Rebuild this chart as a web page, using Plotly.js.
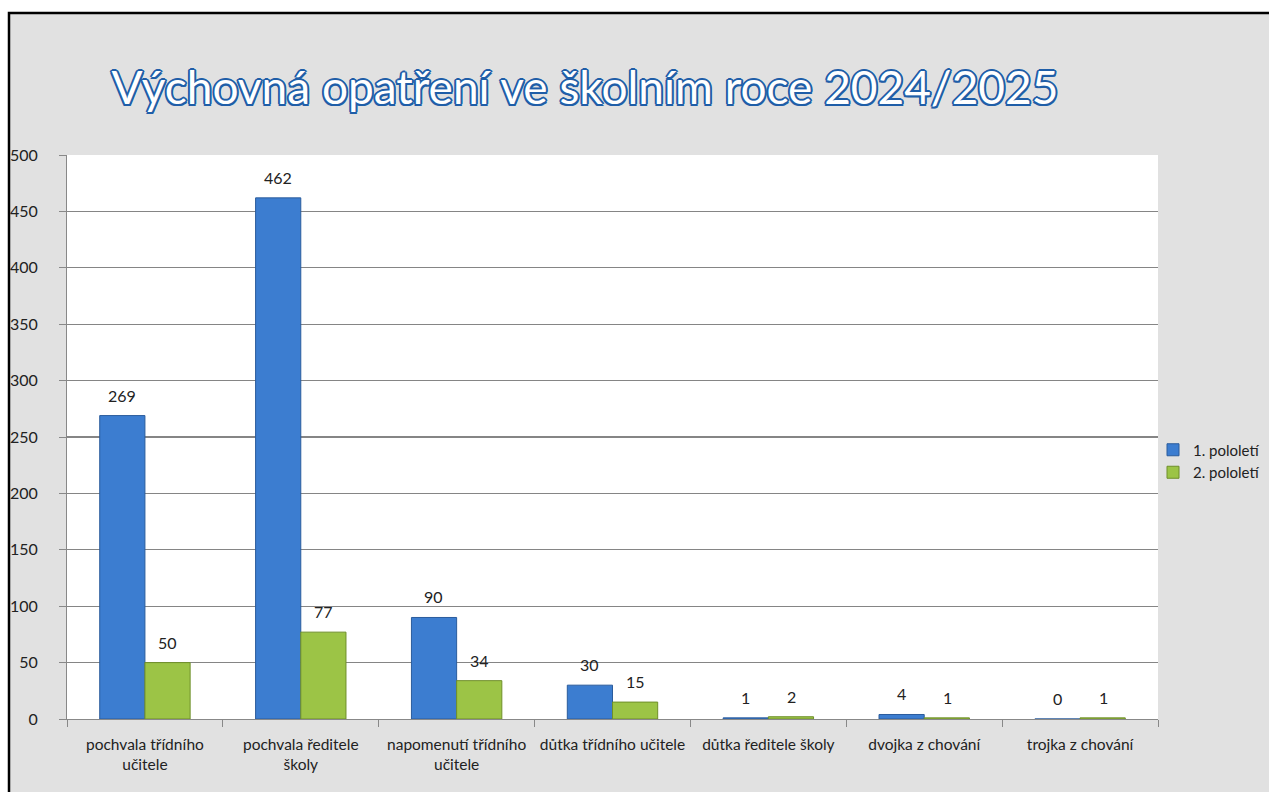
<!DOCTYPE html>
<html>
<head>
<meta charset="utf-8">
<script src="https://cdn.plot.ly/plotly-3.0.1.min.js"></script>
<style>html,body{margin:0;padding:0;background:#fff;}#chart{width:1269px;height:792px;}</style>
</head>
<body>
<div id="chart"></div>
<script>
const categories = [
  "pochvala třídního<br>učitele",
  "pochvala ředitele<br>školy",
  "napomenutí třídního<br>učitele",
  "důtka třídního učitele",
  "důtka ředitele školy",
  "dvojka z chování",
  "trojka z chování"
];
const series1Name = "1. pololetí";
const series2Name = "2. pololetí";
const series1 = [269, 462, 90, 30, 1, 4, 0];
const series2 = [50, 77, 34, 15, 2, 1, 1];
const yTicks = [0, 50, 100, 150, 200, 250, 300, 350, 400, 450, 500];
const titleText = "Výchovná opatření ve školním roce 2024/2025";

const W = 1269, H = 792;
const px = v => v / W;
const py = v => 1 - v / H;
const font = "Lato, 'Open Sans', sans-serif";

const traces = [
  {
    type: "bar", name: series1Name, x: categories, y: series1,
    marker: {color: "#3c7dd0", line: {color: "#2b5c9c", width: 1}},
    hoverinfo: "x+y"
  },
  {
    type: "bar", name: series2Name, x: categories, y: series2,
    marker: {color: "#9cc446", line: {color: "#6f8f2a", width: 1}},
    hoverinfo: "x+y"
  }
];

const labelFont = {family: font, size: 16, color: "#222"};
const annotations = [];
categories.forEach((c, i) => {
  annotations.push({x: c, y: series1[i], xref: "x", yref: "y", text: String(series1[i]),
    showarrow: false, xanchor: "center", yanchor: "bottom", xshift: -23, yshift: 9, font: labelFont});
  annotations.push({x: c, y: series2[i], xref: "x", yref: "y", text: String(series2[i]),
    showarrow: false, xanchor: "center", yanchor: "bottom", xshift: 23, yshift: 9, font: labelFont});
});

const layout = {
  width: W, height: H,
  margin: {l: 0, r: 0, t: 0, b: 0, autoexpand: false},
  paper_bgcolor: "#ffffff",
  plot_bgcolor: "#ffffff",
  barmode: "group",
  bargap: 0.42,
  bargroupgap: 0,
  showlegend: true,
  font: {family: font, color: "#222"},
  title: {
    text: titleText,
    x: px(585), xanchor: "center", xref: "paper",
    y: py(88), yanchor: "middle", yref: "paper",
    font: {
      family: "Lato, 'Open Sans', sans-serif", size: 46, color: "#ffffff",
      shadow: "-1.5px -1.5px 0 #1f5ea8, 1.5px -1.5px 0 #1f5ea8, -1.5px 1.5px 0 #1f5ea8, 1.5px 1.5px 0 #1f5ea8, 0 2px 0 #1f5ea8, 0 -2px 0 #1f5ea8, 2px 0 0 #1f5ea8, -2px 0 0 #1f5ea8"
    }
  },
  xaxis: {
    domain: [px(67), px(1158)],
    type: "category",
    tickson: "boundaries",
    tickangle: 0,
    ticks: "outside", ticklen: 7, tickcolor: "#888",
    ticklabelstandoff: 11,
    showline: true, linecolor: "#888", linewidth: 1,
    showgrid: false,
    tickfont: {family: font, size: 15.5, color: "#222"},
    fixedrange: true
  },
  yaxis: {
    domain: [py(719), py(155)],
    range: [0, 500],
    tickvals: yTicks,
    ticktext: yTicks.map(String),
    ticks: "outside", ticklen: 7, tickcolor: "#888",
    ticklabelstandoff: 18,
    showline: true, linecolor: "#888", linewidth: 1,
    showgrid: true, gridcolor: "#858585", gridwidth: 1.2,
    zeroline: false,
    tickfont: {family: font, size: 16, color: "#222"},
    fixedrange: true
  },
  legend: {
    x: px(1153), xanchor: "left",
    y: py(461), yanchor: "middle",
    bgcolor: "rgba(0,0,0,0)",
    font: {family: font, size: 15, color: "#222"},
    itemwidth: 30,
    tracegroupgap: 0
  },
  annotations: annotations,
  shapes: [
    {
      type: "rect", xref: "paper", yref: "paper", layer: "below",
      x0: px(9), x1: 1.02, y0: -0.02, y1: py(13),
      fillcolor: "#e1e1e1", line: {color: "#000", width: 2.5}
    },
    {
      type: "rect", xref: "x domain", yref: "y domain", layer: "below",
      x0: 0, x1: 1, y0: 0, y1: 1,
      fillcolor: "#ffffff", line: {width: 0}
    }
  ]
};

Plotly.newPlot("chart", traces, layout, {displayModeBar: false, staticPlot: true});
</script>
</body>
</html>
